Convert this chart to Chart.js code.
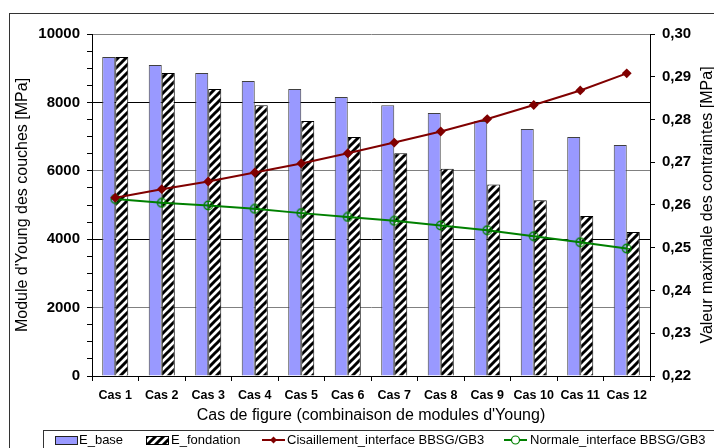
<!DOCTYPE html>
<html>
<head>
<meta charset="utf-8">
<script src="https://cdn.jsdelivr.net/npm/chart.js@4/dist/chart.umd.min.js"></script>
<style>
    html, body { margin: 0; padding: 0; background: #fff; overflow: hidden; }
    #wrap { position: relative; width: 714px; height: 448px; }
</style>
</head>
<body>
<div id="wrap"><canvas id="youngChart" width="714" height="448"></canvas></div>
<script>
// ----------------------------------------------------------
// Données
// ----------------------------------------------------------
const categories = ["Cas 1", "Cas 2", "Cas 3", "Cas 4", "Cas 5", "Cas 6",
                    "Cas 7", "Cas 8", "Cas 9", "Cas 10", "Cas 11", "Cas 12"];

// Module d'Young [MPa] (axe gauche)
const eBase = [9330, 9095, 8860, 8625, 8390, 8155, 7920, 7690, 7455, 7220, 6990, 6755];
const eFondation = [9330, 8860, 8390, 7920, 7455, 6990, 6515, 6060, 5600, 5140, 4680, 4210];

// Contraintes maximales [MPa] (axe droit)
const cisaillement = [0.2617, 0.2637, 0.2655, 0.2676, 0.2697, 0.2721,
                      0.2746, 0.2772, 0.2801, 0.2834, 0.2868, 0.2908];
const normale = [0.2614, 0.2605, 0.2599, 0.2591, 0.2581, 0.2572,
                 0.2563, 0.2552, 0.2541, 0.2527, 0.2513, 0.2498];

// Bornes des axes
const leftAxis = { min: 0, max: 10000, step: 500, labelStep: 2000 };
const rightAxis = { min: 0.22, max: 0.30, step: 0.01 };

const FONT = "'Liberation Sans', Arial, sans-serif";
Chart.defaults.font.family = FONT;
Chart.defaults.color = "#000";

// ----------------------------------------------------------
// Motif hachuré pour E_fondation
// ----------------------------------------------------------
function makeHatch() {
    const c = document.createElement("canvas");
    c.width = 8;
    c.height = 8;
    const g = c.getContext("2d");
    g.fillStyle = "#fff";
    g.fillRect(0, 0, 8, 8);
    g.strokeStyle = "#000";
    g.lineWidth = 3;
    g.beginPath();
    g.moveTo(-2, 10); g.lineTo(10, -2);
    g.moveTo(-6, 6); g.lineTo(6, -6);
    g.moveTo(2, 14); g.lineTo(14, 2);
    g.stroke();
    return document.getElementById("youngChart").getContext("2d").createPattern(c, "repeat");
}

// Marqueur cercle barré (Normale)
function makeCrossCircle() {
    const c = document.createElement("canvas");
    c.width = 11;
    c.height = 11;
    const g = c.getContext("2d");
    g.strokeStyle = "#008000";
    g.lineWidth = 1.2;
    g.beginPath();
    g.arc(5.5, 5.5, 4.3, 0, Math.PI * 2);
    g.moveTo(5.5, 1); g.lineTo(5.5, 10);
    g.moveTo(1, 5.5); g.lineTo(10, 5.5);
    g.stroke();
    return c;
}

const hatch = makeHatch();
const crossCircle = makeCrossCircle();

// ----------------------------------------------------------
// Cadre extérieur, légende encadrée et titre de l'axe droit
// ----------------------------------------------------------
const framePlugin = {
    id: "frame",
    beforeDraw(chart) {
        const ctx = chart.ctx;
        ctx.save();
        ctx.fillStyle = "#fff";
        ctx.fillRect(0, 0, chart.width, chart.height);
        ctx.strokeStyle = "#333";
        ctx.lineWidth = 1;
        ctx.strokeRect(9.5, 13.5, 800, 500);
        ctx.restore();
    },
    afterDraw(chart) {
        const ctx = chart.ctx;
        const area = chart.chartArea;
        ctx.save();

        // titre de l'axe droit, lu de bas en haut
        ctx.translate(708, (area.top + area.bottom) / 2);
        ctx.rotate(-Math.PI / 2);
        ctx.font = "16px " + FONT;
        ctx.fillStyle = "#000";
        ctx.textAlign = "center";
        ctx.textBaseline = "middle";
        ctx.fillText("Valeur maximale des contraintes [MPa]", 0, 0);
        ctx.setTransform(1, 0, 0, 1, 0, 0);

        // légende
        ctx.strokeStyle = "#333";
        ctx.strokeRect(43.5, 430.5, 700, 40);
        const ds = chart.data.datasets;
        const y = 440;
        ctx.font = "13px " + FONT;
        ctx.textAlign = "left";
        ctx.textBaseline = "middle";

        ctx.fillStyle = ds[0].backgroundColor;
        ctx.fillRect(55, 436, 22, 8);
        ctx.strokeStyle = "#222";
        ctx.strokeRect(55.5, 436.5, 22, 8);
        ctx.fillStyle = "#000";
        ctx.fillText(ds[0].label, 79, y);

        ctx.fillStyle = ds[1].backgroundColor;
        ctx.fillRect(146, 436, 22, 8);
        ctx.strokeStyle = "#000";
        ctx.strokeRect(146.5, 436.5, 22, 8);
        ctx.fillStyle = "#000";
        ctx.fillText(ds[1].label, 171, y);

        ctx.strokeStyle = ds[2].borderColor;
        ctx.lineWidth = 2;
        ctx.beginPath();
        ctx.moveTo(262, y); ctx.lineTo(285, y);
        ctx.stroke();
        ctx.fillStyle = ds[2].borderColor;
        ctx.beginPath();
        ctx.moveTo(273.5, y - 3.5); ctx.lineTo(277, y); ctx.lineTo(273.5, y + 3.5); ctx.lineTo(270, y);
        ctx.closePath();
        ctx.fill();
        ctx.fillStyle = "#000";
        ctx.fillText(ds[2].label, 287, y);

        ctx.strokeStyle = ds[3].borderColor;
        ctx.beginPath();
        ctx.moveTo(504, y); ctx.lineTo(527, y);
        ctx.stroke();
        ctx.fillStyle = "#fff";
        ctx.lineWidth = 1.2;
        ctx.beginPath();
        ctx.arc(515.5, y, 4, 0, Math.PI * 2);
        ctx.fill();
        ctx.stroke();
        ctx.fillStyle = "#000";
        ctx.fillText(ds[3].label, 530, y);

        ctx.restore();
    }
};

// Grille : alternance noir / gris comme sur l'original
function gridColor(ctx) {
    const v = ctx.tick ? ctx.tick.value : 0;
    if (v % leftAxis.labelStep !== 0) return "rgba(0,0,0,0)";
    return (v / leftAxis.labelStep) % 2 === 0 ? "#000" : "#808080";
}

// ----------------------------------------------------------
// Création du graphique
// ----------------------------------------------------------
new Chart(document.getElementById("youngChart"), {
    type: "bar",
    data: {
        labels: categories,
        datasets: [
            {
                label: "E_base",
                data: eBase,
                yAxisID: "y",
                backgroundColor: "#9999FF",
                borderColor: "#404040",
                borderWidth: 1,
                categoryPercentage: 0.56,
                barPercentage: 1.0,
                order: 2
            },
            {
                label: "E_fondation",
                data: eFondation,
                yAxisID: "y",
                backgroundColor: hatch,
                borderColor: "#000",
                borderWidth: 1,
                categoryPercentage: 0.56,
                barPercentage: 1.0,
                order: 2
            },
            {
                type: "line",
                label: "Cisaillement_interface BBSG/GB3",
                data: cisaillement,
                yAxisID: "y1",
                borderColor: "#800000",
                backgroundColor: "#800000",
                borderWidth: 2,
                pointStyle: "rectRot",
                pointRadius: 3.5,
                tension: 0,
                order: 0
            },
            {
                type: "line",
                label: "Normale_interface BBSG/GB3",
                data: normale,
                yAxisID: "y1",
                borderColor: "#008000",
                backgroundColor: "#008000",
                borderWidth: 2,
                pointStyle: crossCircle,
                pointRadius: 5,
                tension: 0,
                order: 1
            }
        ]
    },
    plugins: [framePlugin],
    options: {
        responsive: false,
        animation: false,
        layout: { padding: { top: 34, bottom: 20, left: 0, right: 0 } },
        plugins: {
            legend: { display: false },
            tooltip: { enabled: false }
        },
        scales: {
            x: {
                offset: true,
                afterFit(scale) { scale.height = 52; },
                grid: { offset: true, drawOnChartArea: false, tickLength: 5, color: "#000" },
                border: { color: "#000" },
                ticks: {
                    font: { size: 12.5, weight: "bold" },
                    padding: 7,
                    maxRotation: 0,
                    autoSkip: false
                },
                title: {
                    display: true,
                    text: "Cas de figure (combinaison de modules d'Young)",
                    font: { size: 16 },
                    padding: { top: 0, bottom: 3 }
                }
            },
            y: {
                position: "left",
                min: leftAxis.min,
                max: leftAxis.max,
                afterFit(scale) { scale.width = 92; },
                grid: { color: gridColor, tickColor: "#000", tickLength: 5 },
                border: { color: "#000" },
                ticks: {
                    stepSize: leftAxis.step,
                    autoSkip: false,
                    padding: 7,
                    font: { size: 15, weight: "bold" },
                    callback: v => (v % leftAxis.labelStep === 0 ? v : "")
                },
                title: {
                    display: true,
                    text: "Module d'Young des couches [MPa]",
                    font: { size: 16 },
                    padding: { top: 13, bottom: 0 }
                }
            },
            y1: {
                position: "right",
                min: rightAxis.min,
                max: rightAxis.max,
                afterFit(scale) { scale.width = 64; },
                grid: { drawOnChartArea: false, tickColor: "#000", tickLength: 5 },
                border: { color: "#000" },
                ticks: {
                    stepSize: rightAxis.step,
                    autoSkip: false,
                    padding: 7,
                    font: { size: 15, weight: "bold" },
                    callback: v => v.toFixed(2).replace(".", ",")
                }
            }
        }
    }
});
</script>
</body>
</html>
